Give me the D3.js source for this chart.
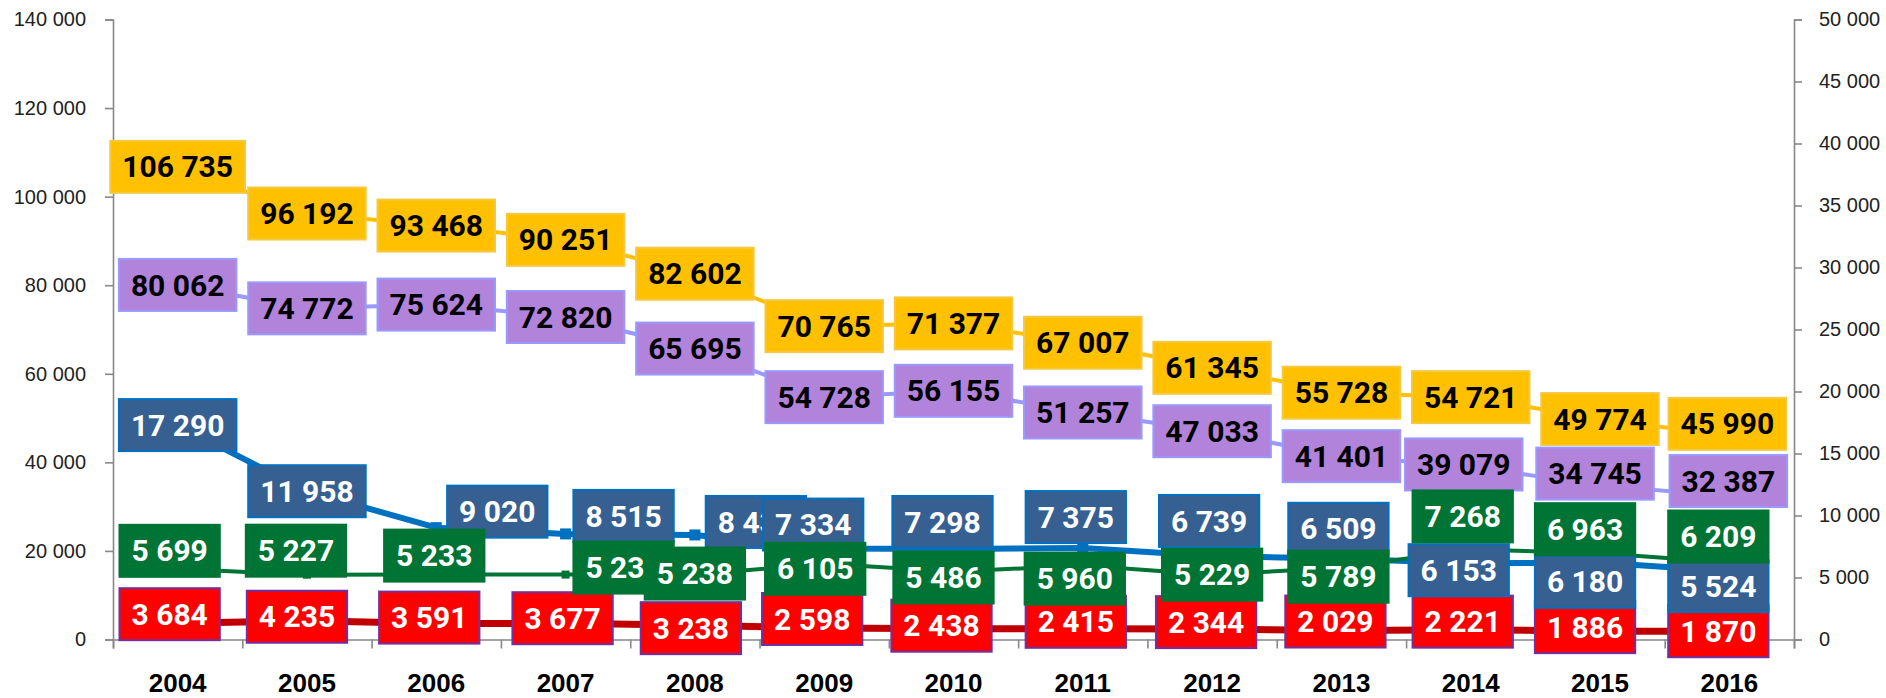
<!DOCTYPE html>
<html>
<head>
<meta charset="utf-8">
<script src="https://cdn.jsdelivr.net/npm/d3@7"></script>
<style>
  body { margin: 0; background: #fff; }
  svg { display: block; font-family: Roboto, "Noto Sans", sans-serif; }
</style>
</head>
<body>
<svg id="chart" width="1886" height="698"></svg>
<script>
// Data
const years = ["2004", "2005", "2006", "2007", "2008", "2009", "2010", "2011", "2012", "2013", "2014", "2015", "2016"];
const orangeValues = [106735, 96192, 93468, 90251, 82602, 70765, 71377, 67007, 61345, 55728, 54721, 49774, 45990];
const purpleValues = [80062, 74772, 75624, 72820, 65695, 54728, 56155, 51257, 47033, 41401, 39079, 34745, 32387];
const blueValues = [17290, 11958, 9020, 8515, 8431, 7334, 7298, 7375, 6739, 6509, 6153, 6180, 5524];
const greenValues = [5699, 5227, 5233, 5235, 5238, 6105, 5486, 5960, 5229, 5789, 7268, 6963, 6209];
const redValues = [3684, 4235, 3591, 3677, 3238, 2598, 2438, 2415, 2344, 2029, 2221, 1886, 1870];
const leftTicks = [0, 20000, 40000, 60000, 80000, 100000, 120000, 140000];
const rightTicks = [0, 5000, 10000, 15000, 20000, 25000, 30000, 35000, 40000, 45000, 50000];

// Manual label nudges (px), like the hand-placed labels of the original
const labelShift = {
  orange: [[0,0],[0,0],[0,0],[0,0],[0,0],[0,0],[0,0],[0,0],[0,0],[0,0],[0,0],[0,0],[-2,-12]],
  purple: [[0,0],[0,0],[0,0],[0,0],[0,0],[0,0],[0,0],[0,0],[0,0],[0,0],[-7,-2],[-5,-12],[-1,-15]],
  blue: [[0,0],[0,0],[61,-16],[58,-18],[61,-13],[-11,-24],[-11,-27],[-7,-31],[-3,-35],[-3,-30],[-12,7],[-15,19],[-11,15]],
  green: [[-8,-18],[-11,-24],[-2,-19],[58,-7],[0,-1],[-9,5],[-10,6],[-8,13],[0,0],[-3,9],[-8,-33],[-15,-24],[-11,-26]],
  red: [[-8,-9],[-10,-4],[-7,-6],[-3,-5],[-4,3],[-12,-9],[-12,-3],[-7,-7],[-6,-7],[-6,-9],[-8,-8],[-15,-4],[-11,0]]
};

const svg = d3.select("#chart");
const plotLeft = 113, plotRight = 1794, plotTop = 19.5, plotBottom = 639.5;

const x = d3.scaleBand().domain(years).range([plotLeft, plotRight]);
const cx = (d) => x(d) + x.bandwidth() / 2;
const yL = d3.scaleLinear().domain([0, 140000]).range([plotBottom, plotTop]);
const yR = d3.scaleLinear().domain([0, 50000]).range([plotBottom, plotTop]);

const fmt = d3.formatLocale({ decimal: ",", thousands: " ", grouping: [3], currency: ["", ""] }).format(",d");

const series = [
  { key: "orange", values: orangeValues, y: yL, line: "#FFC000", width: 4, fill: "#FFC000", stroke: "#F5C842", text: "#000", marker: 0 },
  { key: "purple", values: purpleValues, y: yL, line: "#9999FF", width: 4, fill: "#B183DB", stroke: "#9999FF", text: "#000", marker: 0 },
  { key: "red", values: redValues, y: yL, line: "#C00000", width: 7, fill: "#FF0000", stroke: "#7030A0", text: "#fff", marker: 9 },
  { key: "blue", values: blueValues, y: yR, line: "#0070C0", width: 6, fill: "#366092", stroke: "#0070C0", text: "#fff", marker: 11 },
  { key: "green", values: greenValues, y: yR, line: "#007434", width: 4, fill: "#007434", stroke: "#007434", text: "#fff", marker: 8 }
];

// Axes
const axisColor = "#888";
const gL = svg.append("g").attr("transform", `translate(${plotLeft},0)`)
  .call(d3.axisLeft(yL).tickValues(leftTicks).tickFormat(fmt).tickSize(8).tickPadding(19));
const gR = svg.append("g").attr("transform", `translate(${plotRight},0)`)
  .call(d3.axisRight(yR).tickValues(rightTicks).tickFormat(fmt).tickSize(8).tickPadding(17));
[gL, gR].forEach((g) => {
  g.select(".domain").attr("stroke", axisColor).attr("stroke-width", 1.6);
  g.selectAll(".tick line").attr("stroke", axisColor).attr("stroke-width", 1.6);
  g.selectAll(".tick text").attr("font-size", 20).attr("fill", "#222");
});

const xTicks = d3.scaleLinear().domain([0, years.length]).range([plotLeft, plotRight]);
const gXT = svg.append("g").attr("transform", `translate(0,${plotBottom})`)
  .call(d3.axisBottom(xTicks).ticks(years.length).tickFormat("").tickSize(9));
gXT.select(".domain").attr("stroke", axisColor).attr("stroke-width", 1.6);
gXT.selectAll(".tick line").attr("stroke", axisColor).attr("stroke-width", 1.6);

const gX = svg.append("g").attr("transform", `translate(0,${plotBottom})`)
  .call(d3.axisBottom(x).tickSize(0).tickPadding(34));
gX.select(".domain").remove();
gX.selectAll(".tick text").attr("font-size", 26).attr("font-weight", "bold").attr("fill", "#000");

// Lines and markers
series.forEach((s) => {
  const line = d3.line().x((d, i) => cx(years[i])).y((d) => s.y(d));
  svg.append("path")
    .datum(s.values)
    .attr("d", line)
    .attr("fill", "none")
    .attr("stroke", s.line)
    .attr("stroke-width", s.width)
    .attr("stroke-linejoin", "round");
  if (s.marker) {
    svg.append("g").selectAll("rect")
      .data(s.values)
      .join("rect")
      .attr("x", (d, i) => cx(years[i]) - s.marker / 2)
      .attr("y", (d) => s.y(d) - s.marker / 2)
      .attr("width", s.marker)
      .attr("height", s.marker)
      .attr("fill", s.line);
  }
});

// Data labels (drawn after all lines)
series.forEach((s) => {
  const g = svg.append("g").attr("class", "labels-" + s.key);
  s.values.forEach((v, i) => {
    const [dx, dy] = labelShift[s.key][i];
    const px = cx(years[i]) + dx;
    const py = s.y(v) + dy;
    const lab = g.append("g").attr("transform", `translate(${px},${py})`);
    const rect = lab.append("rect").attr("fill", s.fill).attr("stroke", s.stroke).attr("stroke-width", 2);
    const t = lab.append("text")
      .attr("text-anchor", "middle")
      .attr("y", 10.6)
      .attr("font-size", 30)
      .attr("font-weight", "bold")
      .attr("fill", s.text)
      .text(fmt(v));
    const w = t.node().getComputedTextLength() + 24;
    const h = 52;
    rect.attr("x", -w / 2).attr("y", -h / 2).attr("width", w).attr("height", h);
  });
});
</script>
</body>
</html>
